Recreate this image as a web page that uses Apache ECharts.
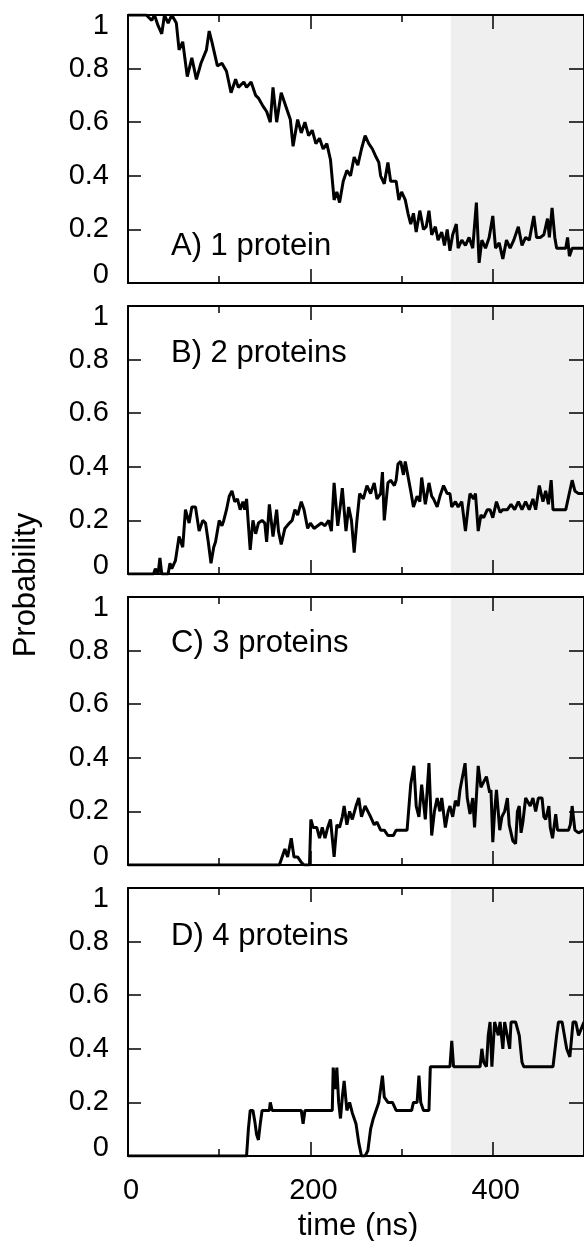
<!DOCTYPE html>
<html><head><meta charset="utf-8">
<script src="https://cdn.jsdelivr.net/npm/echarts@6/dist/echarts.min.js"></script>
<style>html,body{margin:0;padding:0;background:#fff}#c{width:584px;height:1241px}</style>
</head><body><div id="c"></div>
<script>
// ---------------- data ----------------
const panelLabels = ['A) 1 protein', 'B) 2 proteins', 'C) 3 proteins', 'D) 4 proteins'];
const yAxisTitle = 'Probability';
const xAxisTitle = 'time (ns)';
const shadeRange = [354, 500];

// Panel A: 1 protein
const tA = [0,10,20,26,29,33,37,40,44,48,53,56,60,65,70,75,80,86,89,92,94,98,103,108,113,118,121,127,130,135,140,143,148,152,156,159,163,168,172,178,181,186,190,194,198,202,206,210,214,218,222,226,229,232,236,240,244,248,252,256,260,264,268,272,275,277,281,285,288,294,297,300,304,307,310,313,316,320,324,327,330,333,337,340,344,347,350,353,356,360,362,366,370,374,378,382,385,388,392,396,400,403,407,411,415,419,423,428,432,436,440,445,448,452,456,460,462,465,468,470,476,480,482,484,487,494,500];
const pA = [1.0,1.0,1.0,0.98,1.0,0.96,0.93,1.0,0.97,1.0,0.97,0.87,0.9,0.77,0.84,0.76,0.82,0.87,0.94,0.9,0.9,0.81,0.82,0.79,0.71,0.76,0.73,0.75,0.73,0.75,0.7,0.69,0.66,0.64,0.6,0.73,0.6,0.71,0.67,0.61,0.51,0.61,0.56,0.6,0.55,0.57,0.52,0.54,0.5,0.52,0.46,0.31,0.34,0.3,0.38,0.42,0.4,0.47,0.44,0.5,0.55,0.52,0.5,0.47,0.45,0.4,0.37,0.45,0.38,0.38,0.31,0.34,0.31,0.26,0.22,0.26,0.19,0.27,0.2,0.21,0.27,0.18,0.21,0.16,0.19,0.14,0.2,0.12,0.18,0.22,0.13,0.16,0.14,0.17,0.13,0.30,0.075,0.16,0.13,0.17,0.25,0.13,0.15,0.09,0.16,0.13,0.16,0.21,0.14,0.17,0.16,0.25,0.17,0.17,0.18,0.24,0.17,0.28,0.17,0.13,0.13,0.13,0.17,0.1,0.13,0.13,0.13];

// Panel B: 2 proteins
const tB = [0,28,30,33,35,37,44,46,48,52,56,60,63,67,70,74,78,82,85,88,91,94,96,100,103,105,108,111,114,117,120,123,126,128,130,134,137,140,143,147,150,152,155,159,163,165,168,172,177,180,183,186,190,193,197,200,204,208,212,216,220,223,226,230,233,235,239,242,245,248,251,254,258,262,266,270,273,277,279,281,285,288,292,294,296,299,302,304,306,310,313,317,320,322,326,330,333,335,339,342,346,350,353,355,359,362,366,370,373,375,379,381,384,387,390,394,397,400,404,408,411,416,420,424,428,432,436,440,444,447,451,455,458,461,464,466,475,480,487,490,494,500];
const pB = [0,0,0.02,0,0.06,0,0,0.04,0.02,0.05,0.14,0.1,0.24,0.19,0.25,0.25,0.16,0.2,0.19,0.12,0.04,0.1,0.12,0.2,0.18,0.2,0.24,0.29,0.31,0.27,0.28,0.24,0.27,0.24,0.28,0.09,0.2,0.15,0.19,0.2,0.19,0.12,0.26,0.14,0.24,0.16,0.11,0.17,0.19,0.2,0.24,0.22,0.27,0.24,0.17,0.19,0.17,0.18,0.19,0.18,0.2,0.16,0.34,0.18,0.26,0.32,0.16,0.25,0.2,0.08,0.2,0.3,0.28,0.33,0.3,0.34,0.28,0.3,0.38,0.2,0.34,0.35,0.33,0.35,0.41,0.42,0.37,0.42,0.42,0.31,0.25,0.29,0.27,0.36,0.26,0.34,0.29,0.28,0.25,0.29,0.33,0.3,0.3,0.25,0.27,0.25,0.27,0.16,0.25,0.3,0.28,0.3,0.16,0.22,0.21,0.24,0.24,0.21,0.27,0.23,0.24,0.24,0.26,0.24,0.27,0.24,0.27,0.24,0.28,0.24,0.33,0.27,0.31,0.26,0.35,0.24,0.24,0.24,0.35,0.31,0.3,0.3];

// Panel C: 3 proteins
const tC = [0,166,169,172,175,179,182,186,190,193,199,200.5,203,207,210,213,216,219,222,224,226,229,232,235,237,240,243,246,250,253,256,260,263,266,270,273,277,281,285,291,294,306,310,313.5,316,319,322,326,330,333,336,339,342,344,348,351,353,356,359,362,364,369.6,372,375,378,380,384,387,390,393,396.6,398,400,402,404,407.6,410,413,416,418,420,422,425,427,429,431,433,436,438,441,444,447,450,454,456,458,461.5,463,465.5,469,471,475,480,483,485,487,490,494,500];
const pC = [0,0,0.03,0.06,0.03,0.1,0.03,0.03,0.01,0,0,0.17,0.14,0.14,0.1,0.14,0.1,0.14,0.17,0.1,0.03,0.15,0.14,0.18,0.22,0.15,0.2,0.17,0.22,0.25,0.18,0.22,0.2,0.18,0.15,0.16,0.13,0.13,0.11,0.11,0.13,0.13,0.3,0.37,0.22,0.18,0.3,0.17,0.38,0.11,0.2,0.25,0.2,0.25,0.14,0.2,0.22,0.18,0.24,0.22,0.28,0.38,0.25,0.19,0.25,0.14,0.37,0.29,0.31,0.33,0.27,0.28,0.085,0.2,0.28,0.13,0.18,0.2,0.25,0.15,0.12,0.09,0.08,0.2,0.22,0.12,0.16,0.25,0.25,0.22,0.25,0.2,0.25,0.25,0.18,0.17,0.22,0.14,0.1,0.19,0.13,0.13,0.13,0.13,0.15,0.22,0.13,0.12,0.13];

// Panel D: 4 proteins
const tD = [0,130,132,134,137,139,141,143,145,147,155,156,158,190,192,194,224,225,227,229,231,233,235,237,240,243,246,250,253,256,260,263,266,269,272,275,277,279,281,285,290,294,300,306,311,313,317,319,321,324,330,331.5,353,355,357,386,388,390,393,395,397,399,402,404,406,408,411,413,415,418.5,420,425,429,432,434,466,470,472,476,478,481,484.5,488,491,494,500];
const pD = [0,0,0.1,0.17,0.17,0.13,0.08,0.06,0.12,0.17,0.17,0.2,0.17,0.17,0.12,0.17,0.17,0.33,0.25,0.33,0.2,0.14,0.22,0.28,0.17,0.2,0.16,0.12,0.05,0,0,0.02,0.1,0.14,0.17,0.2,0.2,0.3,0.22,0.2,0.2,0.17,0.17,0.17,0.17,0.2,0.2,0.3,0.2,0.17,0.17,0.333,0.333,0.43,0.333,0.333,0.4,0.35,0.333,0.45,0.5,0.333,0.5,0.5,0.45,0.5,0.4,0.5,0.5,0.4,0.5,0.5,0.45,0.35,0.333,0.333,0.45,0.5,0.5,0.46,0.4,0.37,0.5,0.5,0.45,0.5];

const times = [tA, tB, tC, tD];
const probs = [pA, pB, pC, pD];

// ---------------- layout / style ----------------
const FONT = 'Liberation Sans, Arial, Helvetica, sans-serif';
const FS_TICK = 29;
const FS_TEXT = 31;
const tops = [15, 306, 597, 888];
const H = 268;
const labelTops = [226, 333, 623, 916];

const grid = [], xAxis = [], yAxis = [], series = [], title = [];
for (let i = 0; i < 4; i++) {
  grid.push({left: 128, width: 461, top: tops[i], height: H});
  const base = {type: 'value', gridIndex: i, min: 0, max: 500, z: 10, splitLine: {show: false}};
  xAxis.push(Object.assign({}, base, {
    position: 'bottom', interval: 200,
    axisLine: {show: true, onZero: false, lineStyle: {color: '#000', width: 2}},
    axisTick: {show: true, inside: true, length: 14, lineStyle: {color: '#000', width: 1.5}},
    axisLabel: {show: i === 3, margin: 20, fontSize: FS_TICK, fontFamily: FONT, color: '#000',
      showMaxLabel: false, padding: [0, 0, 0, 6]}
  }));
  xAxis.push(Object.assign({}, base, {
    position: 'bottom', interval: 100,
    axisLine: {show: false, onZero: false},
    axisTick: {show: true, inside: true, length: 7, lineStyle: {color: '#000', width: 1.5}},
    axisLabel: {show: false}
  }));
  xAxis.push(Object.assign({}, base, {
    position: 'top', interval: 200,
    axisLine: {show: true, onZero: false, lineStyle: {color: '#000', width: 2}},
    axisTick: {show: true, inside: true, length: 14, lineStyle: {color: '#000', width: 1.5}},
    axisLabel: {show: false}
  }));
  xAxis.push(Object.assign({}, base, {
    position: 'top', interval: 100,
    axisLine: {show: false, onZero: false},
    axisTick: {show: true, inside: true, length: 7, lineStyle: {color: '#000', width: 1.5}},
    axisLabel: {show: false}
  }));
  const ybase = {type: 'value', gridIndex: i, min: 0, max: 1, interval: 0.2, z: 10, splitLine: {show: false}};
  yAxis.push(Object.assign({}, ybase, {
    position: 'left',
    axisLine: {show: true, onZero: false, lineStyle: {color: '#000', width: 2}},
    axisTick: {show: true, inside: true, length: 13, lineStyle: {color: '#000', width: 1.5}},
    axisLabel: {
      show: true, margin: 19, fontSize: FS_TICK, fontFamily: FONT, color: '#000',
      formatter: function (v) {
        const s = String(+v.toFixed(1));
        if (v >= 0.999) return '{t|' + s + '}';
        if (v <= 0.001) return '{b|' + s + '}';
        return s;
      },
      rich: {
        t: {fontSize: FS_TICK, fontFamily: FONT, color: '#000', padding: [22, 0, 0, 0]},
        b: {fontSize: FS_TICK, fontFamily: FONT, color: '#000', padding: [0, 0, 16, 0]}
      }
    }
  }));
  yAxis.push(Object.assign({}, ybase, {
    position: 'right',
    axisLine: {show: true, onZero: false, lineStyle: {color: '#000', width: 2}},
    axisTick: {show: true, inside: true, length: 15, lineStyle: {color: '#000', width: 1.5}},
    axisLabel: {show: false}
  }));
  series.push({
    type: 'line', xAxisIndex: 4 * i, yAxisIndex: 2 * i,
    data: times[i].map((t, k) => [t, probs[i][k]]),
    showSymbol: false, symbol: 'none',
    lineStyle: {color: '#000', width: 3}, z: 5,
    markArea: {silent: true, itemStyle: {color: '#efefef'},
      data: [[{xAxis: shadeRange[0]}, {xAxis: shadeRange[1]}]]}
  });
  title.push({
    text: panelLabels[i], left: 166, top: labelTops[i],
    textStyle: {fontSize: FS_TEXT, fontWeight: 'normal', fontFamily: FONT, color: '#000'}
  });
}

const chart = echarts.init(document.getElementById('c'), null, {renderer: 'canvas'});
chart.setOption({
  animation: false,
  backgroundColor: '#fff',
  title: title,
  grid: grid, xAxis: xAxis, yAxis: yAxis, series: series,
  graphic: [{
    type: 'text', x: 26, y: 585, rotation: Math.PI / 2,
    style: {text: yAxisTitle, fontSize: FS_TEXT, fontFamily: FONT, fill: '#000', align: 'center', verticalAlign: 'middle'}
  }, {
    type: 'text', x: 358, y: 1226,
    style: {text: xAxisTitle, fontSize: FS_TEXT, fontFamily: FONT, fill: '#000', align: 'center', verticalAlign: 'middle'}
  }]
});
</script>
</body></html>
